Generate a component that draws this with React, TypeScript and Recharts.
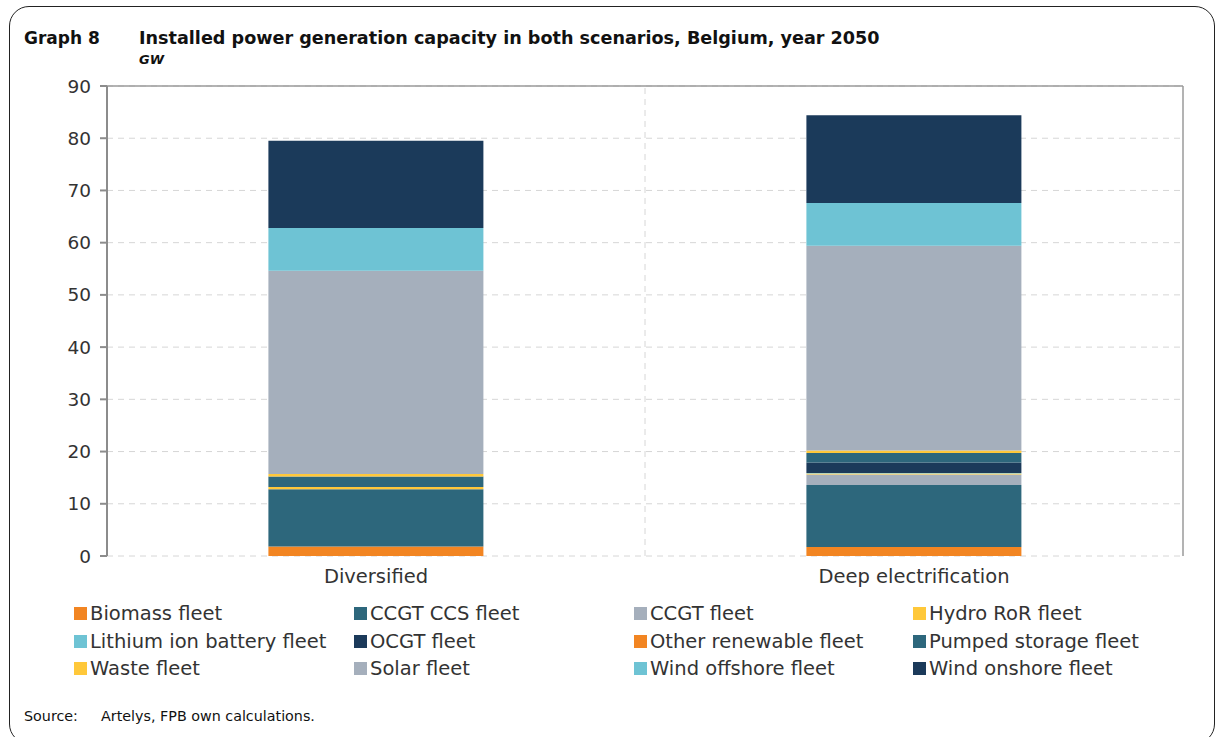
import { BarChart, Bar, XAxis, YAxis, CartesianGrid, ReferenceLine } from "recharts";

const categories = ["Diversified", "Deep electrification"];

// GW per scenario, stacked bottom-to-top in legend order
const biomass = [1.8, 1.7];
const ccgtCcs = [11.0, 11.9];
const ccgt = [0, 2.0];
const hydroRor = [0.4, 0.2];
const lithium = [0, 0.1];
const ocgt = [0, 2.0];
const otherRenewable = [0, 0];
const pumpedStorage = [2.0, 1.8];
const waste = [0.5, 0.5];
const solar = [38.9, 39.2];
const windOffshore = [8.2, 8.2];
const windOnshore = [16.7, 16.8];

const yTicks = [0, 10, 20, 30, 40, 50, 60, 70, 80, 90];

const series = [
  { key: "biomass", name: "Biomass fleet", values: biomass, color: "#F28522" },
  { key: "ccgtCcs", name: "CCGT CCS fleet", values: ccgtCcs, color: "#2D677C" },
  { key: "ccgt", name: "CCGT fleet", values: ccgt, color: "#A5AFBC" },
  { key: "hydroRor", name: "Hydro RoR fleet", values: hydroRor, color: "#FFC83A" },
  { key: "lithium", name: "Lithium ion battery fleet", values: lithium, color: "#6EC3D4" },
  { key: "ocgt", name: "OCGT fleet", values: ocgt, color: "#1B3A5A" },
  { key: "otherRenewable", name: "Other renewable fleet", values: otherRenewable, color: "#F28522" },
  { key: "pumpedStorage", name: "Pumped storage fleet", values: pumpedStorage, color: "#2D677C" },
  { key: "waste", name: "Waste fleet", values: waste, color: "#FFC83A" },
  { key: "solar", name: "Solar fleet", values: solar, color: "#A5AFBC" },
  { key: "windOffshore", name: "Wind offshore fleet", values: windOffshore, color: "#6EC3D4" },
  { key: "windOnshore", name: "Wind onshore fleet", values: windOnshore, color: "#1B3A5A" },
];

const data = categories.map((c, i) => {
  const row: Record<string, string | number> = { category: c, pos: i + 0.5 };
  series.forEach((s) => (row[s.key] = s.values[i]));
  return row;
});

const font = "'DejaVu Sans', sans-serif";

export default function App() {
  return (
    <div style={{ position: "fixed", left: 0, top: 0, width: 1215, height: 737, background: "#fff", fontFamily: font, overflow: "hidden" }}>
      <div style={{ position: "absolute", left: 9, top: 6, width: 1204, height: 736, border: "1.5px solid #222", borderRadius: 20 }} />
      <div style={{ position: "absolute", left: 24, top: 28, fontSize: 17, fontWeight: "bold", color: "#111" }}>Graph 8</div>
      <div style={{ position: "absolute", left: 139, top: 28, fontSize: 17.6, fontWeight: "bold", color: "#111" }}>
        Installed power generation capacity in both scenarios, Belgium, year 2050
      </div>
      <div style={{ position: "absolute", left: 139, top: 52, fontSize: 13, fontWeight: "bold", fontStyle: "italic", color: "#111" }}>GW</div>

      <div style={{ position: "absolute", left: 0, top: 0 }}>
        <BarChart width={1215} height={600} data={data} margin={{ top: 86, right: 32, left: 57, bottom: 14 }} barCategoryGap="30%">
          <CartesianGrid vertical={false} stroke="#d6d6d6" strokeDasharray="6 5" />
          <XAxis
            xAxisId="b"
            type="number"
            dataKey="pos"
            domain={[0, 2]}
            ticks={[0, 1, 2]}
            height={0}
            tick={false}
            tickSize={7}
            axisLine={{ stroke: "#8c8c8c", strokeWidth: 2.5 }}
            tickLine={{ stroke: "#8c8c8c", strokeWidth: 2.5 }}
          />
          <XAxis
            dataKey="category"
            axisLine={false}
            tickLine={false}
            height={30}
            tickMargin={7}
            tick={{ fill: "#333", fontSize: 19.5, fontFamily: font }}
          />
          <YAxis
            domain={[0, 90]}
            ticks={yTicks}
            width={50}
            tickSize={7}
            tickMargin={9}
            axisLine={{ stroke: "#8c8c8c", strokeWidth: 2 }}
            tickLine={{ stroke: "#8c8c8c", strokeWidth: 2 }}
            tick={{ fill: "#333", fontSize: 18.5, fontFamily: font }}
          />
          <ReferenceLine y={90} stroke="#9a9a9a" strokeWidth={1.5} />
          <ReferenceLine xAxisId="b" x={2} stroke="#9a9a9a" strokeWidth={1.5} />
          <ReferenceLine xAxisId="b" x={1} stroke="#d6d6d6" strokeDasharray="6 5" />
          {series.map((s) => (
            <Bar key={s.key} dataKey={s.key} name={s.name} stackId="a" fill={s.color} isAnimationActive={false} />
          ))}
        </BarChart>
      </div>

      <div
        style={{
          position: "absolute",
          left: 74,
          top: 602,
          display: "grid",
          gridTemplateColumns: "280px 280px 279px 280px",
          rowGap: 4,
          fontSize: 19.5,
          color: "#333",
        }}
      >
        {series.map((s) => (
          <div key={s.key} style={{ display: "flex", alignItems: "center", height: 23.5 }}>
            <span style={{ width: 13, height: 13, background: s.color, marginRight: 3, display: "inline-block", flexShrink: 0 }} />
            {s.name}
          </div>
        ))}
      </div>

      <div style={{ position: "absolute", left: 24, top: 708, fontSize: 14.3, color: "#111" }}>Source:</div>
      <div style={{ position: "absolute", left: 101, top: 708, fontSize: 14.3, color: "#111" }}>Artelys, FPB own calculations.</div>
    </div>
  );
}
